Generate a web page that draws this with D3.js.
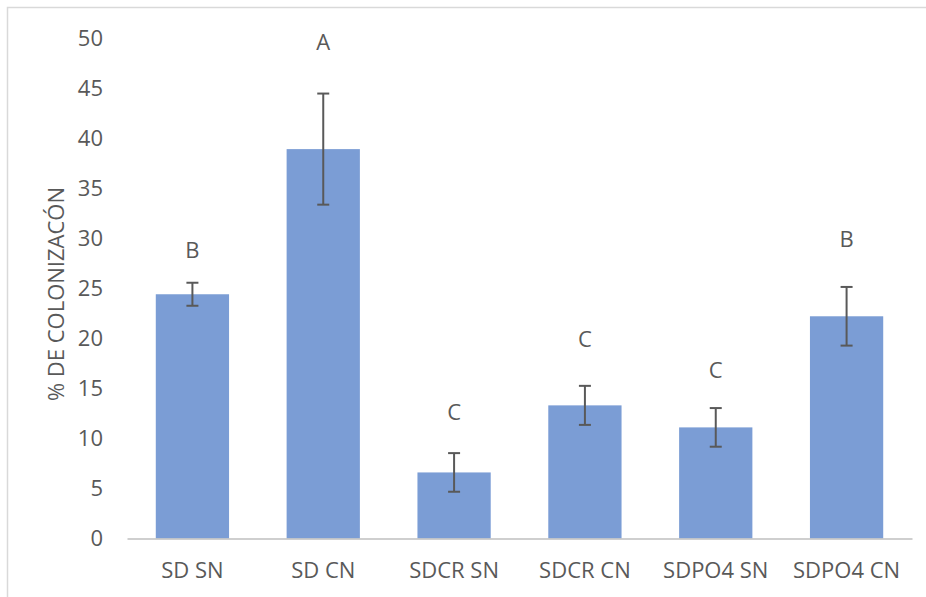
<!DOCTYPE html>
<html>
<head>
<meta charset="utf-8">
<script src="https://cdn.jsdelivr.net/npm/d3@7"></script>
<style>
    body { margin: 0; background: #fff; }
    text { font-family: "Open Sans", "Noto Sans", sans-serif; fill: #595959; }
</style>
</head>
<body>
<svg id="chart"></svg>
<script>
// chart data
const categories = ["SD SN", "SD CN", "SDCR SN", "SDCR CN", "SDPO4 SN", "SDPO4 CN"];
const means = [24.4, 38.9, 6.6, 13.3, 11.1, 22.2];
const errors = [1.15, 5.55, 1.93, 1.95, 1.93, 2.93];
const letters = ["B", "A", "C", "C", "C", "B"];
// height (in % units) where each significance letter sits
const letterLevels = [28.8, 49.6, 12.6, 19.9, 16.8, 29.9];
const yTicks = [0, 5, 10, 15, 20, 25, 30, 35, 40, 45, 50];

const W = 926, H = 597;
const margin = { top: 38, right: 14, bottom: 58.5, left: 127 };
const width = W - margin.left - margin.right;
const height = H - margin.top - margin.bottom;
const fontSize = "22px";

const root = d3.select("#chart").attr("width", W).attr("height", H);

// outer frame
root.append("rect")
    .attr("x", 7.5).attr("y", 7.5)
    .attr("width", W + 20).attr("height", H + 20)
    .attr("fill", "none")
    .attr("stroke", "#d9d9d9")
    .attr("stroke-width", 1.5);

const svg = root.append("g")
    .attr("transform", `translate(${margin.left},${margin.top})`);

const x = d3.scaleBand(categories, [0, width]).paddingInner(0.44).paddingOuter(0.22);
const y = d3.scaleLinear([0, 50], [height, 0]);

// y axis (labels only)
const yAxis = svg.append("g")
    .call(d3.axisLeft(y).tickValues(yTicks).tickSize(0).tickPadding(24));
yAxis.select(".domain").remove();
yAxis.selectAll("text").style("font-size", fontSize).attr("fill", "#595959");

// bars
svg.selectAll(".bar")
    .data(means)
    .enter().append("rect")
    .attr("class", "bar")
    .attr("x", (d, i) => x(categories[i]))
    .attr("y", d => y(d))
    .attr("width", x.bandwidth())
    .attr("height", d => height - y(d))
    .attr("fill", "#7b9dd5");

// error bars
const cap = 6;
const eb = svg.selectAll(".err")
    .data(means)
    .enter().append("g")
    .attr("class", "err")
    .attr("stroke", "#595959")
    .attr("stroke-width", 2);
eb.append("line")
    .attr("x1", (d, i) => x(categories[i]) + x.bandwidth() / 2)
    .attr("x2", (d, i) => x(categories[i]) + x.bandwidth() / 2)
    .attr("y1", (d, i) => y(d + errors[i]))
    .attr("y2", (d, i) => y(d - errors[i]));
eb.append("line")
    .attr("x1", (d, i) => x(categories[i]) + x.bandwidth() / 2 - cap)
    .attr("x2", (d, i) => x(categories[i]) + x.bandwidth() / 2 + cap)
    .attr("y1", (d, i) => y(d + errors[i]))
    .attr("y2", (d, i) => y(d + errors[i]));
eb.append("line")
    .attr("x1", (d, i) => x(categories[i]) + x.bandwidth() / 2 - cap)
    .attr("x2", (d, i) => x(categories[i]) + x.bandwidth() / 2 + cap)
    .attr("y1", (d, i) => y(d - errors[i]))
    .attr("y2", (d, i) => y(d - errors[i]));

// significance letters
svg.selectAll(".letter")
    .data(letters)
    .enter().append("text")
    .attr("class", "letter")
    .attr("x", (d, i) => x(categories[i]) + x.bandwidth() / 2)
    .attr("y", (d, i) => y(letterLevels[i]))
    .attr("dy", "0.36em")
    .attr("text-anchor", "middle")
    .style("font-size", fontSize)
    .text(d => d);

// x axis
const xAxis = svg.append("g")
    .attr("transform", `translate(0,${height})`)
    .call(d3.axisBottom(x).tickSize(0).tickPadding(24));
xAxis.select(".domain").attr("stroke", "#bfbfbf").attr("stroke-width", 1.5);
xAxis.selectAll("text").style("font-size", fontSize).attr("fill", "#595959");

// y axis title
svg.append("text")
    .attr("transform", "rotate(-90)")
    .attr("x", -(294 - margin.top))
    .attr("y", 64 - margin.left)
    .attr("text-anchor", "middle")
    .style("font-size", fontSize)
    .text("% DE COLONIZACÓN");
</script>
</body>
</html>
